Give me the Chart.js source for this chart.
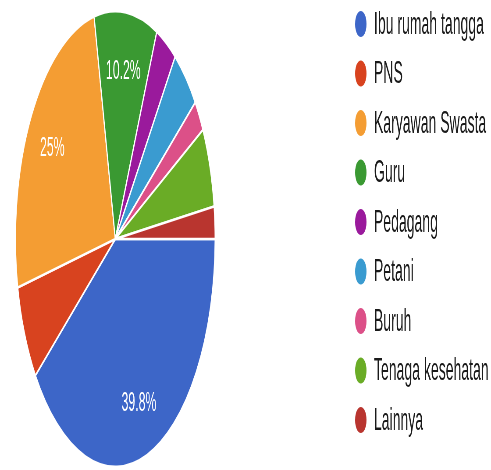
<!DOCTYPE html>
<html lang="id">
<head>
  <meta charset="UTF-8">
  <title>Pekerjaan</title>
  <style>
    html, body {
      margin: 0;
      padding: 0;
      overflow: hidden;
      background: #fff;
    }
    /* the reference is squeezed sideways, so draw wide then squash */
    #wrap {
      width: 1120px;
      height: 470px;
      transform: scaleX(0.43839);
      transform-origin: 0 0;
    }
  </style>
</head>
<body>
  <div id="wrap"><canvas id="pieChart"></canvas></div>

  <script src="https://cdn.jsdelivr.net/npm/chart.js"></script>
  <script>
    const categories = ['Ibu rumah tangga', 'PNS', 'Karyawan Swasta', 'Guru', 'Pedagang', 'Petani', 'Buruh', 'Tenaga kesehatan', 'Lainnya'];
    const counts = [35, 6, 22, 9, 3, 4, 2, 5, 2];
    const colors = ['#3d66c8', '#d8431f', '#f49d33', '#3a9932', '#9a1a9c', '#3a9bd0', '#dc5088', '#6aac26', '#b9352f'];

    const total = counts.reduce((a, b) => a + b, 0);

    function pct(v) {
      let s = (v / total * 100).toFixed(1);
      if (s.endsWith('.0')) s = s.slice(0, -2);
      return s + '%';
    }

    // percent text inside the bigger slices
    const sliceLabels = {
      id: 'sliceLabels',
      afterDatasetsDraw(chart) {
        const ctx = chart.ctx;
        const meta = chart.getDatasetMeta(0);
        ctx.save();
        ctx.fillStyle = '#fff';
        ctx.font = '28px "Liberation Sans", Arial, sans-serif';
        ctx.textAlign = 'center';
        ctx.textBaseline = 'middle';
        meta.data.forEach((arc, i) => {
          const v = counts[i];
          if (v / total < 0.08) return;
          const p = arc.getProps(['x', 'y', 'startAngle', 'endAngle', 'outerRadius'], true);
          const mid = (p.startAngle + p.endAngle) / 2;
          const r = p.outerRadius * 0.75;
          ctx.fillText(pct(v), p.x + Math.cos(mid) * r, p.y + Math.sin(mid) * r + 2);
        });
        ctx.restore();
      }
    };

    // legend drawn by hand so rows sit where the reference has them
    const sideLegend = {
      id: 'sideLegend',
      afterDraw(chart) {
        const ctx = chart.ctx;
        ctx.save();
        ctx.font = '32px "Liberation Sans", Arial, sans-serif';
        ctx.textBaseline = 'middle';
        ctx.textAlign = 'left';
        chart.data.labels.forEach((lab, i) => {
          const y = 24 + i * 49.5;
          ctx.fillStyle = chart.data.datasets[0].backgroundColor[i];
          ctx.beginPath();
          ctx.arc(823, y, 13, 0, Math.PI * 2);
          ctx.fill();
          ctx.fillStyle = '#1a1a1a';
          ctx.fillText(lab, 853, y + 1);
        });
        ctx.restore();
      }
    };

    new Chart(document.getElementById('pieChart'), {
      type: 'pie',
      data: {
        labels: categories,
        datasets: [{
          data: counts,
          backgroundColor: colors,
          borderColor: '#fff',
          borderWidth: 2.5
        }]
      },
      options: {
        responsive: true,
        maintainAspectRatio: false,
        animation: false,
        rotation: 90,
        layout: {
          padding: { left: 34, right: 628, top: 10, bottom: 2 }
        },
        plugins: {
          legend: { display: false },
          tooltip: { enabled: false }
        }
      },
      plugins: [sliceLabels, sideLegend]
    });
  </script>
</body>
</html>
